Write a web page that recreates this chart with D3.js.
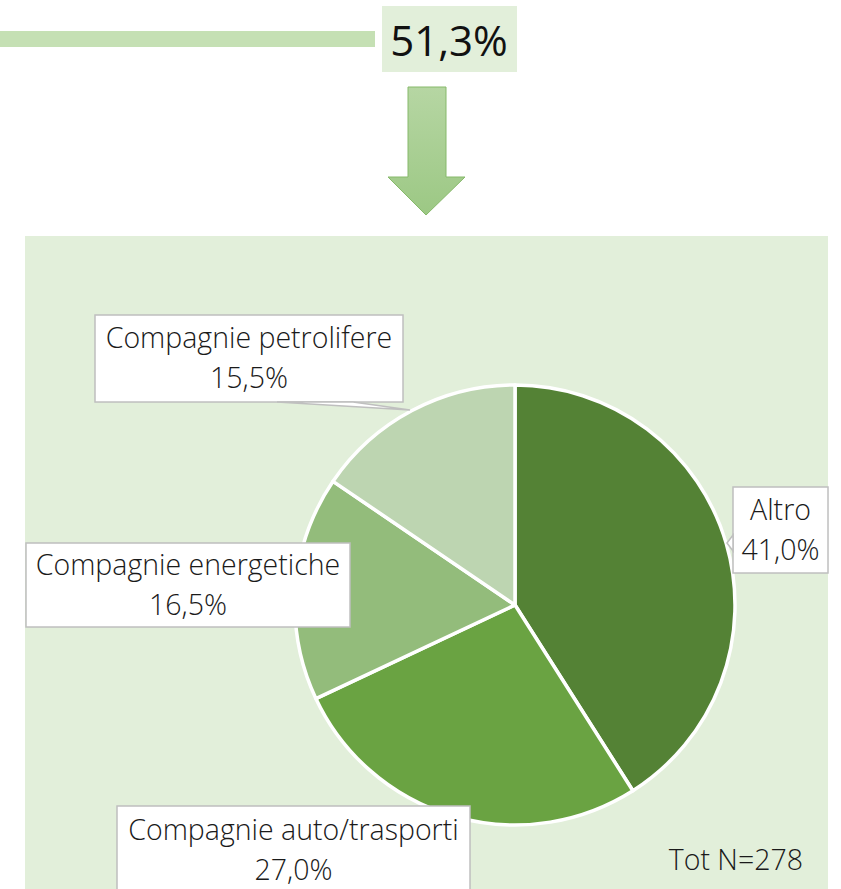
<!DOCTYPE html>
<html>
<head>
<meta charset="utf-8">
<script src="https://cdn.jsdelivr.net/npm/d3@7"></script>
<style>
  body { margin: 0; background: #fff; }
  svg { display: block; }
  .lbl { font-family: "Open Sans", sans-serif; font-weight: 300; font-size: 28.5px; fill: #1a1a1a; }
</style>
</head>
<body>
<svg id="chart" width="841" height="889"></svg>
<script>
// data
var categories = ["Altro", "Compagnie auto/trasporti", "Compagnie energetiche", "Compagnie petrolifere"];
var values = [41.0, 27.0, 16.5, 15.5];
var sliceColors = ["#548235", "#6aa342", "#93bc7b", "#bdd5b1"];
var headline = "51,3%";
var totalN = 278;

function fmt(v) { return v.toFixed(1).replace(".", ",") + "%"; }

var svg = d3.select("#chart");

// top bar + headline box
svg.append("rect").attr("x", 0).attr("y", 31).attr("width", 375).attr("height", 16).attr("fill", "#c5e0b4");
svg.append("rect").attr("x", 382).attr("y", 6).attr("width", 135).attr("height", 66).attr("fill", "#e2efda");
svg.append("text")
    .attr("x", 449).attr("y", 56)
    .attr("text-anchor", "middle")
    .attr("font-family", "Open Sans, sans-serif")
    .attr("font-size", 42)
    .attr("fill", "#111")
    .text(headline);

// arrow
var defs = svg.append("defs");
var grad = defs.append("linearGradient").attr("id", "arrowGrad")
    .attr("x1", 0).attr("y1", 0).attr("x2", 0).attr("y2", 1);
grad.append("stop").attr("offset", "0%").attr("stop-color", "#b6d6a3");
grad.append("stop").attr("offset", "100%").attr("stop-color", "#9cc884");
svg.append("polygon")
    .attr("points", "408,87 446,87 446,177 465,177 426,215 388,177 408,177")
    .attr("fill", "url(#arrowGrad)")
    .attr("stroke", "#86b96a")
    .attr("stroke-width", 1);

// panel
svg.append("rect").attr("x", 25).attr("y", 236).attr("width", 803).attr("height", 653).attr("fill", "#e2efda");

// pie
var cx = 515, cy = 605, radius = 220;
var color = d3.scaleOrdinal().domain(categories).range(sliceColors);
var pie = d3.pie().sort(null).value(function(d) { return d.value; });
var arc = d3.arc().innerRadius(0).outerRadius(radius);
var pieData = categories.map(function(c, i) { return { name: c, value: values[i] }; });

var g = svg.append("g").attr("transform", "translate(" + cx + "," + cy + ")");
g.selectAll("path.slice")
    .data(pie(pieData))
    .enter()
    .append("path")
    .attr("class", "slice")
    .attr("d", arc)
    .attr("fill", function(d) { return color(d.data.name); })
    .attr("stroke", "#fff")
    .attr("stroke-width", 3.5)
    .attr("stroke-linejoin", "round");

// label boxes (callouts)
var boxes = {
    "Compagnie petrolifere": { x: 95, y: 315, w: 308, h: 87, tail: "M 277 402 L 410 410 L 353 402" },
    "Altro": { x: 733, y: 487, w: 95, h: 86, tail: "M 733 535 L 727 543 L 733 551" },
    "Compagnie energetiche": { x: 26, y: 543, w: 324, h: 84 },
    "Compagnie auto/trasporti": { x: 117, y: 806, w: 353, h: 100 }
};
var lineTop = { "Compagnie petrolifere": 348, "Altro": 520, "Compagnie energetiche": 575, "Compagnie auto/trasporti": 840 };

categories.forEach(function(c, i) {
    var b = boxes[c];
    var lg = svg.append("g");
    lg.append("rect")
        .attr("x", b.x).attr("y", b.y).attr("width", b.w).attr("height", b.h)
        .attr("fill", "#fff").attr("stroke", "#bfbfbf").attr("stroke-width", 1.5);
    if (b.tail) {
        lg.append("path").attr("d", b.tail + " Z")
            .attr("fill", "#fff").attr("stroke", "#bfbfbf").attr("stroke-width", 1.5);
    }
    var tx = b.x + b.w / 2;
    lg.append("text").attr("class", "lbl").attr("x", tx).attr("y", lineTop[c])
        .attr("text-anchor", "middle").text(c);
    lg.append("text").attr("class", "lbl").attr("x", tx).attr("y", lineTop[c] + 40)
        .attr("text-anchor", "middle").text(fmt(values[i]));
});

// total
svg.append("text").attr("class", "lbl")
    .attr("x", 803).attr("y", 870)
    .attr("text-anchor", "end")
    .text("Tot N=" + totalN);
</script>
</body>
</html>
